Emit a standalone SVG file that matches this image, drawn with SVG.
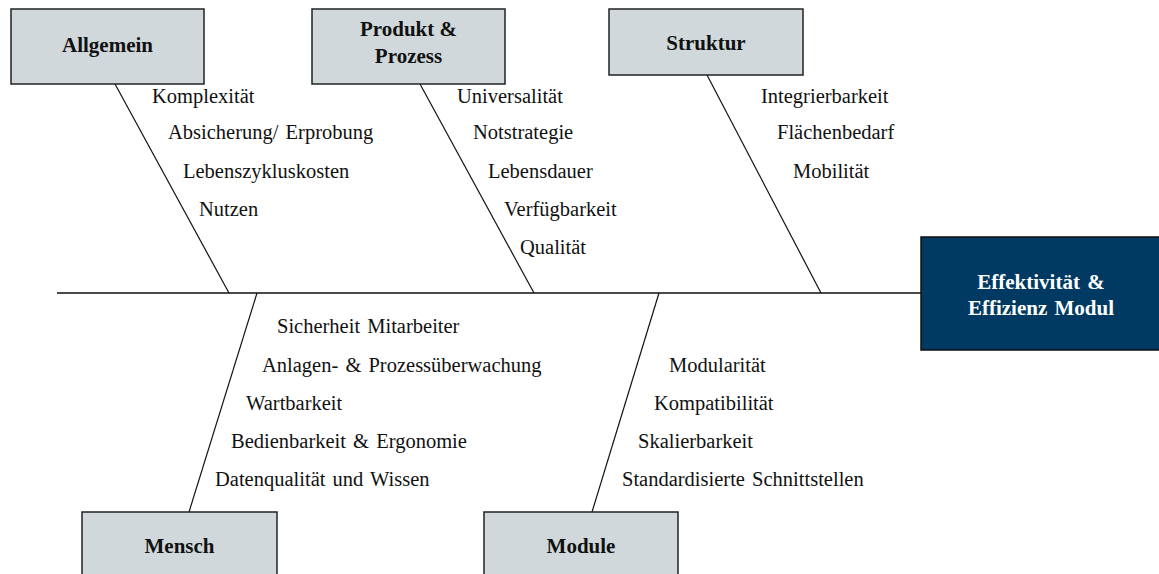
<svg xmlns="http://www.w3.org/2000/svg" width="1159" height="574" viewBox="0 0 1159 574">
  <style>
    .cat rect { fill: #d0d8db; stroke: #222; stroke-width: 1.5; }
    .cat text { font-family: "Liberation Serif", "Times New Roman", serif; font-weight: bold; font-size: 21px; fill: #111; text-anchor: middle; }
    .effect rect { fill: #003a63; stroke: #111; stroke-width: 1.5; }
    .effect text { font-family: "Liberation Serif", "Times New Roman", serif; font-weight: bold; font-size: 21px; fill: #fff; text-anchor: middle; word-spacing: 2px; }
    .cause { font-family: "Liberation Serif", "Times New Roman", serif; font-size: 20.5px; fill: #111; word-spacing: 2px; }
    .bone { stroke: #111; stroke-width: 1.2; fill: none; }
    .spine { stroke: #4a4a4a; stroke-width: 2; fill: none; }
  </style>

  <!-- connectors: spine and bones -->
  <g id="connectors">
    <line class="spine" x1="57" y1="293" x2="921" y2="293"/>
    <line class="bone" x1="115" y1="84" x2="229" y2="293"/>
    <line class="bone" x1="420" y1="84" x2="534" y2="293"/>
    <line class="bone" x1="707" y1="75" x2="821" y2="293"/>
    <line class="bone" x1="257" y1="293" x2="189" y2="512"/>
    <line class="bone" x1="659" y1="293" x2="592" y2="512"/>
  </g>

  <!-- category boxes -->
  <g id="allgemein" class="cat">
    <rect x="11" y="9" width="193" height="75"/>
    <text x="107.5" y="52">Allgemein</text>
  </g>
  <g id="produkt-prozess" class="cat">
    <rect x="312" y="9" width="193" height="75"/>
    <text x="408.5" y="36">Produkt &amp;</text>
    <text x="408.5" y="63">Prozess</text>
  </g>
  <g id="struktur" class="cat">
    <rect x="609" y="9" width="194" height="66"/>
    <text x="706" y="50">Struktur</text>
  </g>
  <g id="mensch" class="cat">
    <rect x="82" y="512" width="195" height="70"/>
    <text x="179.5" y="553">Mensch</text>
  </g>
  <g id="module" class="cat">
    <rect x="484" y="512" width="194" height="70"/>
    <text x="581" y="553">Module</text>
  </g>

  <!-- effect box -->
  <g id="effekt" class="effect">
    <rect x="921" y="237" width="240" height="113"/>
    <text x="1041" y="289">Effektivität &amp;</text>
    <text x="1041" y="315">Effizienz Modul</text>
  </g>

  <!-- causes -->
  <g id="causes-allgemein">
    <text class="cause" x="152" y="103">Komplexität</text>
    <text class="cause" x="168" y="139">Absicherung/ Erprobung</text>
    <text class="cause" x="183" y="178">Lebenszykluskosten</text>
    <text class="cause" x="199" y="216">Nutzen</text>
  </g>
  <g id="causes-produkt">
    <text class="cause" x="457" y="103">Universalität</text>
    <text class="cause" x="473" y="139">Notstrategie</text>
    <text class="cause" x="488" y="178">Lebensdauer</text>
    <text class="cause" x="504" y="216">Verfügbarkeit</text>
    <text class="cause" x="520" y="254">Qualität</text>
  </g>
  <g id="causes-struktur">
    <text class="cause" x="761" y="103">Integrierbarkeit</text>
    <text class="cause" x="777" y="139">Flächenbedarf</text>
    <text class="cause" x="793" y="178">Mobilität</text>
  </g>
  <g id="causes-mensch">
    <text class="cause" x="277" y="333">Sicherheit Mitarbeiter</text>
    <text class="cause" x="262" y="372">Anlagen- &amp; Prozessüberwachung</text>
    <text class="cause" x="246" y="410">Wartbarkeit</text>
    <text class="cause" x="231" y="448">Bedienbarkeit &amp; Ergonomie</text>
    <text class="cause" x="215" y="486">Datenqualität und Wissen</text>
  </g>
  <g id="causes-module">
    <text class="cause" x="669" y="372">Modularität</text>
    <text class="cause" x="654" y="410">Kompatibilität</text>
    <text class="cause" x="638" y="448">Skalierbarkeit</text>
    <text class="cause" x="622" y="486">Standardisierte Schnittstellen</text>
  </g>
</svg>
